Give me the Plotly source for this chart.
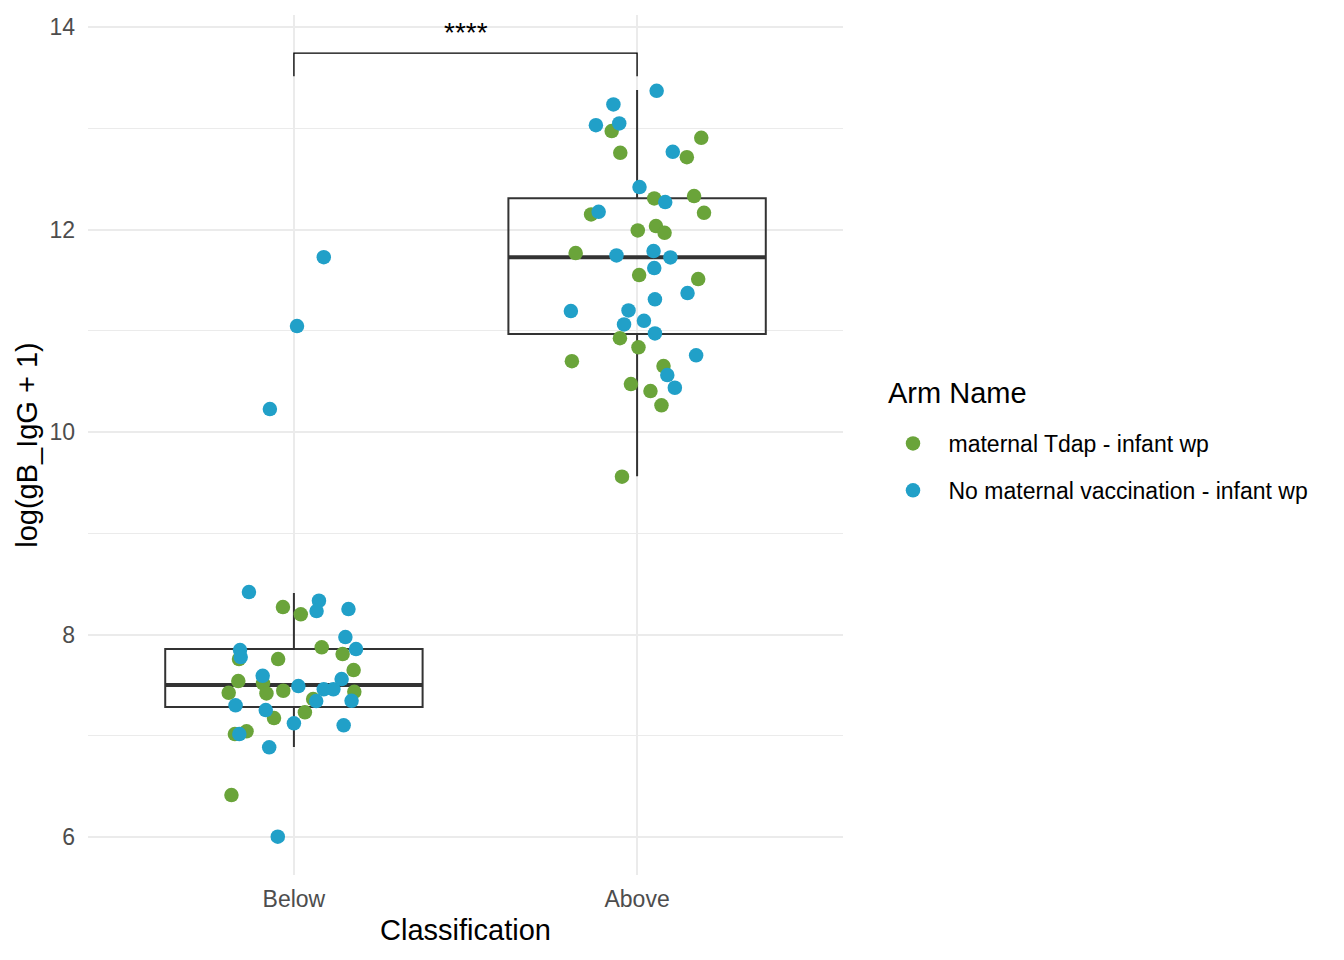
import plotly.graph_objects as go

# categories on the x axis (1 = Below, 2 = Above)
classes = ["Below", "Above"]
class_pos = [1, 2]

arm_names = ["maternal Tdap - infant wp", "No maternal vaccination - infant wp"]
arm_colors = ["#6aa43a", "#21a0c8"]

# maternal Tdap - infant wp : Below
tdap_below_jit = [-0.032, 0.020, 0.081, 0.142, -0.160, -0.046, 0.174, -0.162, -0.090, -0.190,
                  -0.080, -0.031, 0.176, 0.056, -0.058, 0.032, -0.172, -0.138, -0.182]
tdap_below_y = [8.272, 8.200, 7.874, 7.807, 7.758, 7.758, 7.649, 7.541, 7.518, 7.425,
                7.419, 7.445, 7.435, 7.363, 7.175, 7.232, 7.017, 7.044, 6.415]

# maternal Tdap - infant wp : Above
tdap_above_jit = [-0.074, 0.187, -0.049, 0.145, 0.050, 0.166, 0.195, -0.134, 0.002, 0.055, 0.080,
                  -0.179, 0.006, 0.178, -0.050, 0.004, -0.190, 0.077, -0.018, 0.039, 0.071, -0.044]
tdap_above_y = [12.973, 12.907, 12.759, 12.716, 12.308, 12.331, 12.166, 12.150, 11.992, 12.035, 11.968,
                11.768, 11.551, 11.511, 10.928, 10.837, 10.701, 10.652, 10.474, 10.405, 10.264, 9.559]

# No maternal vaccination - infant wp : Below
novac_below_jit = [-0.131, 0.073, 0.066, 0.159, 0.150, 0.181, -0.157, -0.155, -0.091, 0.013, 0.087,
                   0.115, 0.139, 0.065, 0.168, -0.170, -0.082, 0.000, 0.145, -0.159, -0.072, -0.047,
                   0.087, 0.009, -0.070]
novac_below_y = [8.420, 8.334, 8.232, 8.252, 7.975, 7.857, 7.847, 7.778, 7.593, 7.491, 7.459,
                 7.459, 7.560, 7.343, 7.346, 7.301, 7.254, 7.123, 7.103, 7.017, 6.886, 6.003,
                 11.728, 11.047, 10.227]

# No maternal vaccination - infant wp : Above
novac_above_jit = [0.057, -0.069, -0.120, -0.052, 0.104, 0.007, 0.082, -0.112, -0.060, 0.048, 0.097,
                   0.050, 0.147, 0.052, -0.193, -0.025, -0.038, 0.020, 0.052, 0.172, 0.088, 0.110]
novac_above_y = [13.371, 13.237, 13.032, 13.049, 12.768, 12.420, 12.272, 12.176, 11.745, 11.788, 11.725,
                 11.620, 11.373, 11.311, 11.195, 11.202, 11.064, 11.099, 10.975, 10.758, 10.563, 10.438]

# boxplot statistics per class (Below, Above)
box_lower = [6.889, 9.565]
box_q1 = [7.284, 10.968]
box_median = [7.501, 11.728]
box_q3 = [7.857, 12.311]
box_upper = [8.410, 13.378]

# significance bracket
bracket_y = 13.743
bracket_tip = 13.516
signif_label = "****"

FONT = "Liberation Sans, Arial, Helvetica, sans-serif"
BOX_COLOR = "#333333"
BOX_W = 0.75

fig = go.Figure()

fig.add_trace(go.Box(
    x=class_pos, q1=box_q1, median=box_median, q3=box_q3,
    lowerfence=box_lower, upperfence=box_upper,
    boxpoints=False, width=BOX_W, whiskerwidth=0,
    line=dict(color=BOX_COLOR, width=2), fillcolor="rgba(0,0,0,0)",
    showlegend=False, hoverinfo="skip",
))

# thicker median bars, like ggplot's fatten
for pos, med in zip(class_pos, box_median):
    fig.add_trace(go.Scatter(
        x=[pos - BOX_W / 2, pos + BOX_W / 2], y=[med, med], mode="lines",
        line=dict(color=BOX_COLOR, width=4), showlegend=False, hoverinfo="skip",
    ))

groups = [
    (tdap_below_jit, tdap_below_y, tdap_above_jit, tdap_above_y),
    (novac_below_jit, novac_below_y, novac_above_jit, novac_above_y),
]
for i, (bj, by, aj, ay) in enumerate(groups):
    xs = [class_pos[0] + j for j in bj] + [class_pos[1] + j for j in aj]
    ys = by + ay
    fig.add_trace(go.Scatter(
        x=xs, y=ys, mode="markers", name=arm_names[i], legendgroup=arm_names[i],
        marker=dict(color=arm_colors[i], size=14.5, line=dict(width=0)),
    ))

fig.add_trace(go.Scatter(
    x=[class_pos[0], class_pos[0], class_pos[1], class_pos[1]],
    y=[bracket_tip, bracket_y, bracket_y, bracket_tip],
    mode="lines", line=dict(color="black", width=1.3), showlegend=False, hoverinfo="skip",
))
fig.add_annotation(x=(class_pos[0] + class_pos[1]) / 2, y=13.95, text=signif_label, showarrow=False,
                   font=dict(family=FONT, size=28, color="black"), yanchor="middle")

# legend title as its own label (ggplot leaves a wider gap under it)
fig.add_annotation(x=1.057, y=0.5605, xref="paper", yref="paper", text="Arm Name",
                   showarrow=False, xanchor="left", yanchor="middle",
                   font=dict(family=FONT, size=29, color="black"))

# the page body adds an 8px offset, so margins are trimmed on the left/top
fig.update_layout(
    width=1344, height=960,
    margin=dict(l=80, r=509, t=7, b=93),
    plot_bgcolor="white", paper_bgcolor="white",
    font=dict(family=FONT, color="black"),
    legend=dict(
        font=dict(size=23, color="black"),
        x=1.0457, xanchor="left", y=0.4744, yanchor="middle",
        itemwidth=61, tracegroupgap=14, bgcolor="rgba(0,0,0,0)",
    ),
)
fig.update_xaxes(
    range=[0.4, 2.6], tickvals=class_pos, ticktext=classes,
    showgrid=True, gridcolor="#ebebeb", gridwidth=2, zeroline=False, showline=False,
    ticks="", ticklabelstandoff=8,
    tickfont=dict(size=23, color="#4d4d4d"),
    title=dict(text="Classification", font=dict(size=29, color="black"), standoff=8),
)
fig.update_yaxes(
    range=[5.625, 14.12], tickvals=[6, 8, 10, 12, 14],
    showgrid=True, gridcolor="#ebebeb", gridwidth=2, zeroline=False, showline=False,
    minor=dict(dtick=1, tick0=0, showgrid=True, gridcolor="#ebebeb", gridwidth=1.1),
    ticks="", ticklabelstandoff=12,
    tickfont=dict(size=23, color="#4d4d4d"),
    title=dict(text="log(gB_IgG + 1)", font=dict(size=29, color="black"), standoff=3),
)

fig.write_html("out.html")
